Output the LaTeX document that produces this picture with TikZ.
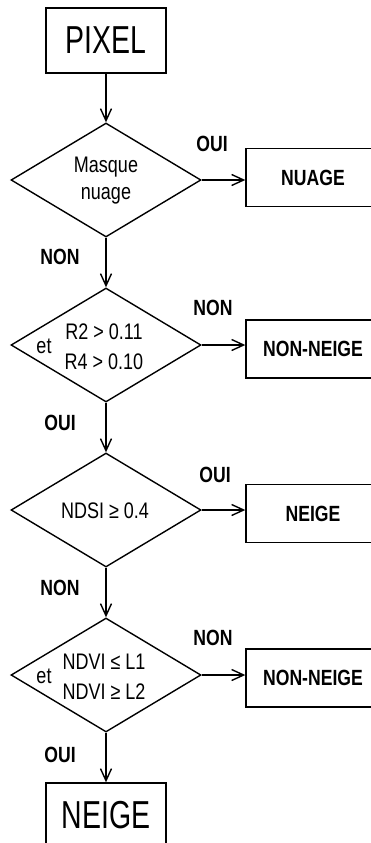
\documentclass[tikz,border=0pt]{standalone}
\usepackage{fontspec}
\setmainfont{Liberation Sans}
\newfontfamily\nar[FakeStretch=0.8]{Liberation Sans}
\newfontfamily\narbig[FakeStretch=0.73]{Liberation Sans}
\usetikzlibrary{shapes.geometric,arrows.meta}

\begin{document}
\begin{tikzpicture}[x=1pt,y=-1pt,
  line width=1.4pt,
  arr/.style={-{Straight Barb[length=12pt,width=11pt,line width=1.4pt]}},
  bigbox/.style={draw,rectangle,minimum width=120pt,minimum height=65pt,inner sep=0pt,
    font=\narbig\fontsize{39}{40}\selectfont},
  test/.style={draw,diamond,minimum width=190pt,minimum height=114pt,inner sep=0pt},
  outbox/.style={draw,rectangle,minimum width=134pt,minimum height=58pt,inner sep=0pt,
    font=\nar\bfseries\fontsize{22}{24}\selectfont},
  cond/.style={font=\nar\fontsize{22.5}{27}\selectfont,inner sep=0pt,align=center},
  lab/.style={font=\nar\bfseries\fontsize{22}{22}\selectfont,inner sep=0pt}]

\useasboundingbox (0,0) rectangle (371,843);
\clip (0,0) rectangle (371,843);

% main column
\node[bigbox] (pixel) at (106,40.5) {PIXEL};
\node[test] (d1) at (106,180) {};
\node[test] (d2) at (106,345) {};
\node[test] (d3) at (106,510) {};
\node[test] (d4) at (106,675) {};
\node[bigbox] (neige) at (106,815.5) {NEIGE};

% conditions
\node[cond] (c1) at (106,181) {Masque\\nuage};
\node[cond] (e2) at (44,346) {et};
\node[cond] (c2a) at (104,332) {R2 > 0.11};
\node[cond] (c2b) at (104,362) {R4 > 0.10};
\node[cond] (c3) at (105,511) {NDSI ≥ 0.4};
\node[cond] (e4) at (44,676) {et};
\node[cond] (c4a) at (104,662) {NDVI ≤ L1};
\node[cond] (c4b) at (104,692) {NDVI ≥ L2};

% outcomes
\node[outbox] (o1) at (313,177.5) {NUAGE};
\node[outbox] (o2) at (313,349) {NON-NEIGE};
\node[outbox] (o3) at (313,513.5) {NEIGE};
\node[outbox] (o4) at (313,678) {NON-NEIGE};

% connectors
\draw[arr] (pixel.south) -- (d1.north);
\draw[arr] (d1.south) -- (d2.north);
\draw[arr] (d2.south) -- (d3.north);
\draw[arr] (d3.south) -- (d4.north);
\draw[arr] (d4.south) -- (neige.north);
\draw[arr] (d1.east) -- (d1.east -| o1.west);
\draw[arr] (d2.east) -- (d2.east -| o2.west);
\draw[arr] (d3.east) -- (d3.east -| o3.west);
\draw[arr] (d4.east) -- (d4.east -| o4.west);

% branch labels
\node[lab] (l1) at (212,144) {OUI};
\node[lab] (l2) at (60,257) {NON};
\node[lab] (l3) at (213,308) {NON};
\node[lab] (l4) at (60,423) {OUI};
\node[lab] (l5) at (215,475) {OUI};
\node[lab] (l6) at (60,588) {NON};
\node[lab] (l7) at (213,638) {NON};
\node[lab] (l8) at (60,755) {OUI};
\end{tikzpicture}
\end{document}
